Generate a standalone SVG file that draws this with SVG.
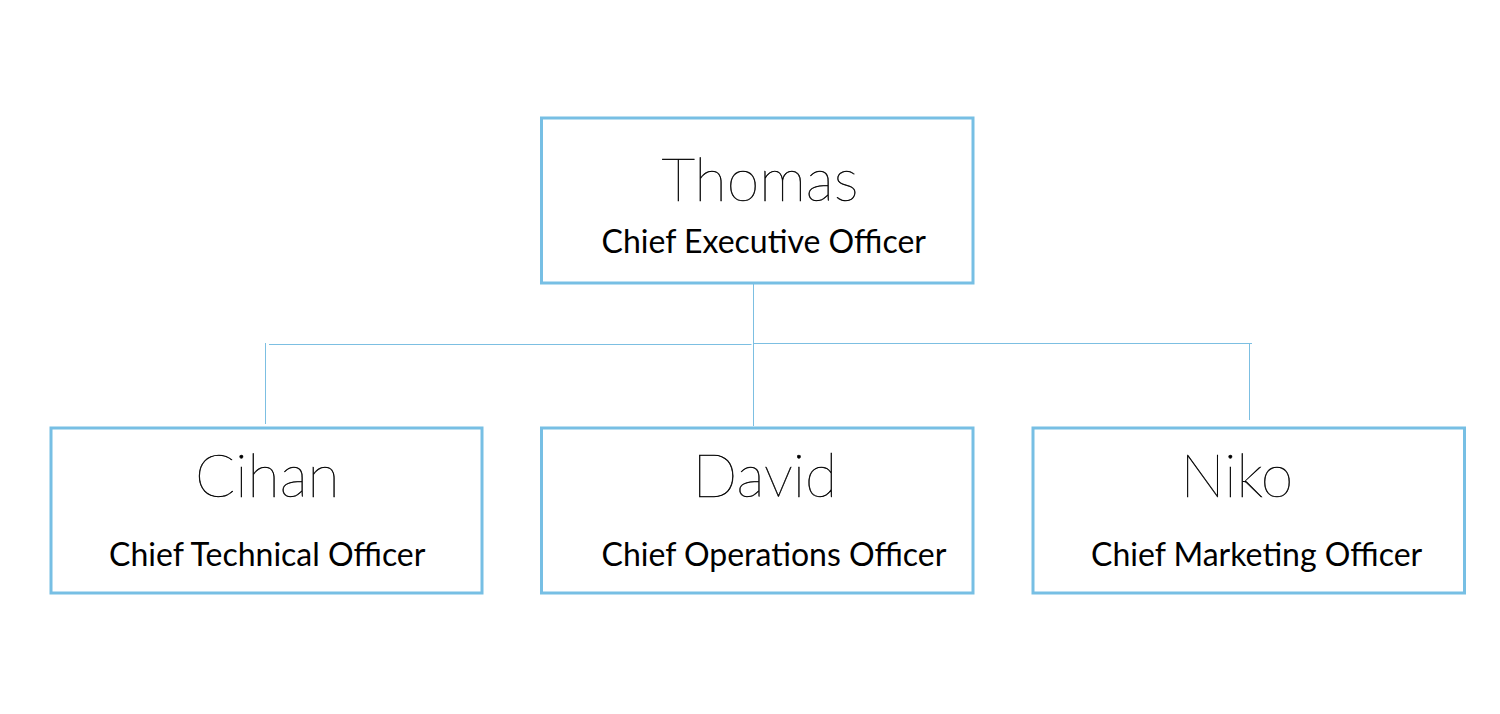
<svg xmlns="http://www.w3.org/2000/svg" width="1500" height="714" viewBox="0 0 1500 714">
<style>
.box{fill:#ffffff;stroke:#77bfe4;stroke-width:3}
.name{font-family:Lato,"Open Sans",sans-serif;font-weight:100;font-size:59px;fill:#000000;stroke:#000000;stroke-width:0.5}
.title{font-family:Lato,"Open Sans",sans-serif;font-weight:400;font-size:32px;fill:#000000}
.conn{fill:none;stroke:#7cbfe2;stroke-width:1}
</style>
<rect width="1500" height="714" fill="#ffffff"/>
<g id="connectors">
<line class="conn" x1="753.5" y1="284" x2="753.5" y2="426"/>
<line class="conn" x1="269" y1="344.5" x2="751.5" y2="344.5"/>
<line class="conn" x1="754" y1="343.5" x2="1252" y2="343.5"/>
<line class="conn" x1="265.5" y1="343" x2="265.5" y2="424"/>
<line class="conn" x1="1249.5" y1="344" x2="1249.5" y2="420"/>
</g>
<g id="node-thomas">
<rect class="box" x="541.5" y="118" width="431.5" height="165"/>
<text class="name" x="661.5" y="200.5">Thomas</text>
<text class="title" x="601.5" y="252.5">Chief Executive Officer</text>
</g>
<g id="node-cihan">
<rect class="box" x="51" y="428" width="431" height="165"/>
<text class="name" x="195" y="497">Cihan</text>
<text class="title" x="109" y="565.5">Chief Technical Officer</text>
</g>
<g id="node-david">
<rect class="box" x="541.5" y="428" width="431.5" height="165"/>
<text class="name" x="692.5" y="497">David</text>
<text class="title" x="601.5" y="565.5">Chief Operations Officer</text>
</g>
<g id="node-niko">
<rect class="box" x="1033" y="428" width="431.5" height="165"/>
<text class="name" x="1180.5" y="497">Niko</text>
<text class="title" x="1091" y="565.5">Chief Marketing Officer</text>
</g>
</svg>
